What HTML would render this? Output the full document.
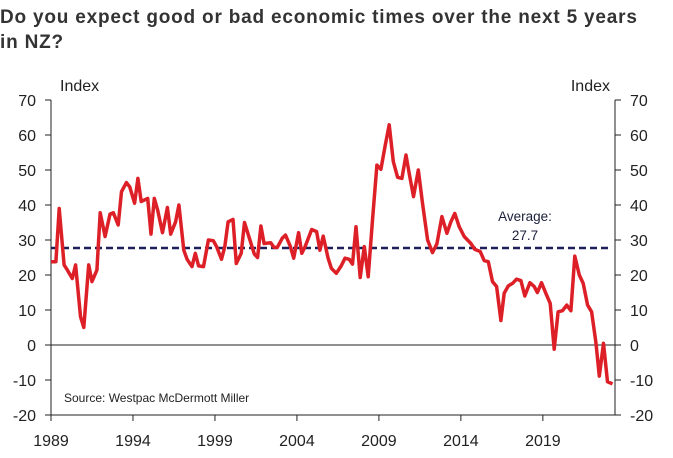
<!DOCTYPE html>
<html><head><meta charset="utf-8"><style>
body{margin:0;background:#fff;width:673px;height:458px;overflow:hidden;font-family:"Liberation Sans",Arial,sans-serif}
.t{position:absolute;left:0;top:5px;font-size:19px;font-weight:bold;color:#333;line-height:25px;letter-spacing:0.8px;white-space:nowrap}
</style></head><body>
<div class="t">Do you expect good or bad economic times over the next 5 years<br>in NZ?</div>
<svg id="c" width="673" height="458" style="position:absolute;left:0;top:0"></svg>
<script>
const years=[1989.0,1989.3,1989.5,1989.8,1990.0,1990.3,1990.5,1990.8,1991.0,1991.3,1991.5,1991.8,1992.0,1992.3,1992.6,1992.8,1993.1,1993.3,1993.6,1993.8,1994.1,1994.3,1994.5,1994.9,1995.1,1995.3,1995.5,1995.8,1996.1,1996.3,1996.6,1996.8,1997.1,1997.3,1997.6,1997.8,1998.0,1998.3,1998.6,1998.9,1999.1,1999.4,1999.6,1999.8,2000.1,2000.3,2000.6,2000.8,2001.1,2001.4,2001.6,2001.8,2002.0,2002.4,2002.6,2002.8,2003.1,2003.3,2003.6,2003.8,2004.1,2004.3,2004.5,2004.9,2005.2,2005.4,2005.6,2005.9,2006.1,2006.4,2006.7,2006.93,2007.19,2007.39,2007.6,2007.86,2008.11,2008.35,2008.61,2008.88,2009.12,2009.37,2009.63,2009.88,2010.14,2010.4,2010.65,2010.85,2011.11,2011.4,2011.66,2011.97,2012.27,2012.54,2012.84,2013.15,2013.39,2013.63,2013.9,2014.2,2014.61,2014.85,2015.18,2015.42,2015.67,2015.93,2016.18,2016.44,2016.64,2016.89,2017.15,2017.39,2017.66,2017.9,2018.21,2018.47,2018.67,2018.92,2019.18,2019.45,2019.69,2019.93,2020.2,2020.46,2020.71,2020.95,2021.22,2021.46,2021.73,2021.97,2022.24,2022.44,2022.7,2022.94,2023.25];
const values=[23.8,23.8,39.0,22.9,21.4,19.0,22.9,8.1,5.0,22.9,18.1,21.4,37.8,31.0,37.4,37.8,34.3,43.8,46.4,45.2,40.5,47.6,41.0,41.9,31.7,41.9,38.6,32.1,39.3,31.7,35.2,40.0,27.1,24.5,22.4,26.2,22.6,22.4,30.0,29.8,28.1,24.5,28.1,35.2,35.9,23.3,26.2,35.0,30.5,26.0,25.0,34.0,29.0,29.2,27.9,27.9,30.5,31.4,28.1,24.8,32.1,26.2,28.1,33.0,32.4,27.1,31.1,24.8,21.9,20.5,22.6,24.8,24.5,23.1,33.8,19.3,28.1,19.5,35.7,51.4,50.2,56.7,62.9,52.4,47.9,47.6,54.3,49.0,42.4,50.0,40.5,30.0,26.4,28.9,36.7,31.9,35.2,37.6,33.8,31.0,29.0,27.3,26.7,24.1,23.8,18.1,16.7,7.0,14.8,16.9,17.6,18.8,18.4,14.0,17.8,16.7,15.0,17.8,14.8,11.9,-1.2,9.5,9.8,11.4,9.8,25.4,20.0,17.6,11.4,9.5,0.5,-8.9,0.5,-10.5,-11.1];
const yTicks=[70,60,50,40,30,20,10,0,-10,-20];
const xTicks=[1989,1994,1999,2004,2009,2014,2019];
const average=[27.7];
const L=51,R=615,T=100,B=415,x0=1989,x1=2023.4,yMin=-20,yMax=70;
const X=v=>L+(v-x0)/(x1-x0)*(R-L);
const Y=v=>B-(v-yMin)/(yMax-yMin)*(B-T);
const s=document.getElementById('c'),NS='http://www.w3.org/2000/svg';
function mk(t,a,txt){const e=document.createElementNS(NS,t);for(const k in a)e.setAttribute(k,a[k]);if(txt!=null)e.textContent=txt;s.appendChild(e);return e;}
let e;
e=mk('line',{x1:L,y1:T,x2:L,y2:B,stroke:'#222','stroke-width':1});

e=mk('line',{x1:R,y1:T,x2:R,y2:B,stroke:'#222','stroke-width':1});

e=mk('line',{x1:L,y1:B,x2:R,y2:B,stroke:'#222','stroke-width':1});

e=mk('line',{x1:L,y1:Y(0),x2:R,y2:Y(0),stroke:'#222','stroke-width':1});

yTicks.forEach(v=>{
 e=mk('line',{x1:L-6,y1:Y(v),x2:L,y2:Y(v),stroke:'#222'});
 
 e=mk('line',{x1:R,y1:Y(v),x2:R+6,y2:Y(v),stroke:'#222'});
 
 e=mk('text',{x:36,y:Y(v)+6,'text-anchor':'end','font-size':16,fill:'#222'},v);
 
 e=mk('text',{x:630,y:Y(v)+6,'text-anchor':'start','font-size':16,fill:'#222'},v);
 
});
xTicks.forEach(v=>{
 e=mk('line',{x1:X(v),y1:B,x2:X(v),y2:B+6,stroke:'#222'});
 
 e=mk('text',{x:X(v),y:446,'text-anchor':'middle','font-size':16,fill:'#222'},v);
 
});
e=mk('text',{x:60,y:91,'font-size':16,fill:'#222'},'Index');

e=mk('text',{x:610,y:91,'text-anchor':'end','font-size':16,fill:'#222'},'Index');

e=mk('line',{x1:L,y1:Y(average[0]),x2:R-5,y2:Y(average[0]),stroke:'#1c1f5a','stroke-width':2.5,'stroke-dasharray':'7,4'});

e=mk('text',{x:525,y:221,'text-anchor':'middle','font-size':13.5,fill:'#1c1f3a'},'Average:');

e=mk('text',{x:525,y:240,'text-anchor':'middle','font-size':13.5,fill:'#1c1f3a'},average[0]);

e=mk('polyline',{points:years.map((y,i)=>X(y).toFixed(1)+','+Y(values[i]).toFixed(1)).join(' '),fill:'none',stroke:'#dd2027','stroke-width':3.5,'stroke-linejoin':'round'});

e=mk('text',{x:64,y:402,'font-size':12,fill:'#222'},'Source: Westpac McDermott Miller');

</script>
</body></html>
